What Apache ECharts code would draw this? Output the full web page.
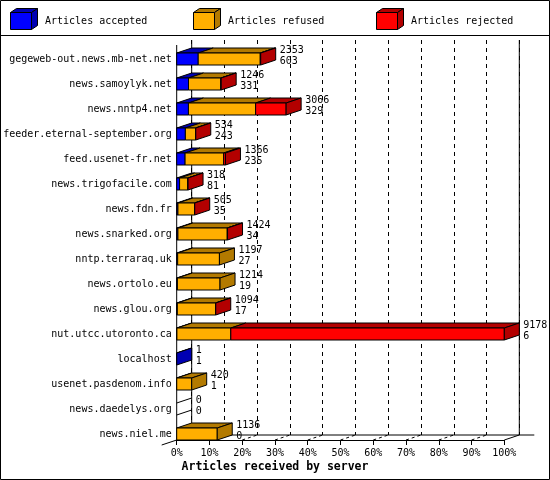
<!DOCTYPE html>
<html><head><meta charset="utf-8">
<script src="https://cdn.jsdelivr.net/npm/echarts@6/dist/echarts.min.js"></script>
<style>html,body{margin:0;padding:0;background:#fff}#c{width:550px;height:480px}</style>
</head><body><div id="c"></div>
<script>
const servers = ['gegeweb-out.news.mb-net.net','news.samoylyk.net','news.nntp4.net','feeder.eternal-september.org','feed.usenet-fr.net','news.trigofacile.com','news.fdn.fr','news.snarked.org','nntp.terraraq.uk','news.ortolo.eu','news.glou.org','nut.utcc.utoronto.ca','localhost','usenet.pasdenom.info','news.daedelys.org','news.niel.me'];
const accepted = [603, 331, 329, 243, 235, 81, 35, 34, 27, 19, 17, 6, 1, 1, 0, 0];
const refused  = [1738, 905, 1882, 286, 1080, 232, 465, 1382, 1170, 1195, 1072, 1510, 0, 419, 0, 1136];
const rejected = [12, 10, 855, 5, 51, 5, 5, 8, 0, 0, 5, 7662, 0, 0, 0, 0];
const seriesNames = ['Articles accepted','Articles refused','Articles rejected'];
const seriesColors = ['#0000FF','#FFAF00','#FF0000'];
const pctTicks = [0,10,20,30,40,50,60,70,80,90,100];
const xTitle = 'Articles received by server';

const FONT = '"DejaVu Sans Mono", "Liberation Mono", monospace';
const DX = 15, DY = 5, FH = 12;
function dark(hex){
  const n = parseInt(hex.slice(1),16);
  const r = Math.round(((n>>16)&255)*0.7), g = Math.round(((n>>8)&255)*0.7), b = Math.round((n&255)*0.7);
  return 'rgb('+r+','+g+','+b+')';
}
const darkColors = seriesColors.map(dark);
const totals = servers.map((s,i)=>accepted[i]+refused[i]+rejected[i]);
const MAX = Math.max(...totals);
const data = servers.map((s,i)=>[i, accepted[i], refused[i], rejected[i]]);
const P0 = pctTicks[0], P1 = pctTicks[pctTicks.length-1];

function renderBar(params, api){
  const i = api.value(0);
  const vals = [api.value(1), api.value(2), api.value(3)];
  const p0 = api.coord([P0, i]);
  const yc = p0[1], yT = yc - FH/2, yB = yc + FH/2;
  const ch = [];
  let cum = 0, xEnd = p0[0], last = -1;
  vals.forEach((v,k)=>{
    if (v <= 0) return;
    const xa = api.coord([cum/MAX*P1, i])[0];
    cum += v;
    const xb = api.coord([cum/MAX*P1, i])[0];
    ch.push({type:'polygon', shape:{points:[[xa,yT],[xb,yT],[xb+DX,yT-DY],[xa+DX,yT-DY]]}, style:{fill:darkColors[k], stroke:'#000', lineWidth:1}});
    ch.push({type:'rect', shape:{x:xa,y:yT,width:xb-xa,height:FH}, style:{fill:seriesColors[k], stroke:'#000', lineWidth:1}});
    xEnd = xb; last = k;
  });
  if (last >= 0) {
    ch.push({type:'polygon', shape:{points:[[xEnd,yT],[xEnd+DX,yT-DY],[xEnd+DX,yB-DY],[xEnd,yB]]}, style:{fill:darkColors[last], stroke:'#000', lineWidth:1}});
  } else {
    ch.push({type:'line', shape:{x1:xEnd,y1:yT,x2:xEnd+DX,y2:yT-DY}, style:{stroke:'#000', lineWidth:1}});
    ch.push({type:'line', shape:{x1:xEnd,y1:yB,x2:xEnd+DX,y2:yB-DY}, style:{stroke:'#000', lineWidth:1}});
  }
  const tx = xEnd + DX + 4;
  const tot = vals[0]+vals[1]+vals[2];
  ch.push({type:'text', style:{text:String(tot), x:tx, y:yc-9, fill:'#000', font:'10px '+FONT, align:'left', verticalAlign:'middle'}});
  ch.push({type:'text', style:{text:String(vals[0]), x:tx, y:yc+2, fill:'#000', font:'10px '+FONT, align:'left', verticalAlign:'middle'}});
  return {type:'group', children:ch};
}

function renderFrame(params, api){
  const n = servers.length;
  const x0 = api.coord([P0, 0])[0], x1 = api.coord([P1, 0])[0];
  const yFirst = api.coord([P0, 0])[1], yLast = api.coord([P0, n-1])[1];
  const frontTop = yFirst - 14, floor = yLast + FH/2;
  const ch = [];
  const L = (a,b,c,d,dash)=>ch.push({type:'line', shape:{x1:a,y1:b,x2:c,y2:d}, style:{stroke:'#000', lineWidth:1, lineDash: dash||null}});
  L(x0, frontTop, x0, floor);
  L(x0+DX, frontTop-DY, x0+DX, floor-DY);
  L(x1+DX, frontTop-DY, x1+DX, floor-DY);
  L(x0+DX, floor-DY, x1+2*DX, floor-DY);
  L(x0-DX, floor+DY, x0, floor);
  L(x1, floor, x1+DX, floor-DY);
  pctTicks.slice(1,-1).forEach(p=>{
    const x = api.coord([p, 0])[0];
    L(x, floor, x+DX, floor-DY, [3,3]);
  });
  return {type:'group', children:ch};
}

const legendGraphics = [];
seriesNames.forEach((name,k)=>{
  const x = 10.5 + 183*k;
  legendGraphics.push({type:'polygon', shape:{points:[[x,12.5],[x+21,12.5],[x+27,8.5],[x+6,8.5]]}, style:{fill:darkColors[k], stroke:'#000', lineWidth:1}});
  legendGraphics.push({type:'polygon', shape:{points:[[x+21,12.5],[x+27,8.5],[x+27,25.5],[x+21,29.5]]}, style:{fill:darkColors[k], stroke:'#000', lineWidth:1}});
  legendGraphics.push({type:'rect', shape:{x:x,y:12.5,width:21,height:17}, style:{fill:seriesColors[k], stroke:'#000', lineWidth:1}});
  legendGraphics.push({type:'text', style:{text:name, x:x+34.5, y:21, fill:'#000', font:'10px '+FONT, verticalAlign:'middle'}});
});

const chart = echarts.init(document.getElementById('c'), null, {renderer:'canvas'});
chart.setOption({
  animation:false,
  backgroundColor:'#fff',
  title:{text:xTitle, left:'center', top:461, padding:0, textStyle:{fontFamily:FONT, fontSize:11.5, fontWeight:'bold', color:'#000'}},
  graphic:[
    {type:'rect', shape:{x:0.5,y:0.5,width:549,height:479}, style:{fill:null, stroke:'#000', lineWidth:1}, z:100},
    {type:'line', shape:{x1:0,y1:35.5,x2:550,y2:35.5}, style:{stroke:'#000', lineWidth:1}, z:100},
    {type:'group', children:legendGraphics, z:100}
  ],
  grid:[
    {left:176.7, right:45.7, top:46.5, bottom:33.5},
    {left:191.7, right:30.7, top:40, bottom:45}
  ],
  xAxis:[
    {type:'value', gridIndex:0, min:P0, max:P1, interval:10, offset:-6.5,
     axisLine:{show:true, lineStyle:{color:'#000', width:1}},
     axisTick:{show:true, length:5, lineStyle:{color:'#000'}},
     axisLabel:{show:true, formatter:'{value}%', color:'#000', fontFamily:FONT, fontSize:10, margin:8, showMinLabel:true, showMaxLabel:true},
     splitLine:{show:false}},
    {type:'value', gridIndex:1, min:P0, max:P1, interval:10,
     axisLine:{show:false}, axisTick:{show:false}, axisLabel:{show:false},
     splitLine:{show:true, lineStyle:{color:'#000', width:1, type:[4,4]}}}
  ],
  yAxis:[
    {type:'category', gridIndex:0, data:servers, inverse:true,
     axisLine:{show:false}, axisTick:{show:false},
     axisLabel:{color:'#000', fontFamily:FONT, fontSize:10, margin:5}},
    {type:'value', gridIndex:1, show:false, splitLine:{show:false}}
  ],
  series:[
    {type:'custom', name:'frame', xAxisIndex:0, yAxisIndex:0, data:[[0]], renderItem:renderFrame, z:2, silent:true},
    {type:'custom', name:'bars', xAxisIndex:0, yAxisIndex:0, data:data, renderItem:renderBar, z:3,
     encode:{x:[1,2,3], y:0}}
  ]
});
</script></body></html>
